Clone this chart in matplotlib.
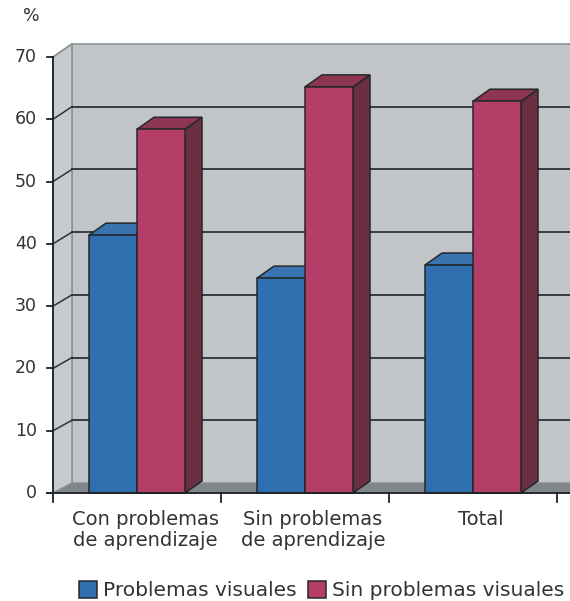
import matplotlib
matplotlib.use("Agg")
import matplotlib.pyplot as plt
from matplotlib.patches import Polygon, Rectangle

categories = ["Con problemas\nde aprendizaje", "Sin problemas\nde aprendizaje", "Total"]
series_names = ["Problemas visuales", "Sin problemas visuales"]
problemas_visuales = [41.4, 34.5, 36.6]
sin_problemas_visuales = [58.4, 65.2, 62.9]
y_ticks = [0, 10, 20, 30, 40, 50, 60, 70]

W, H = 570, 601
fig = plt.figure(figsize=(W / 100, H / 100), dpi=100)
# pixel geometry of the front plane
px_left, px_right, px_bottom, px_top = 53, 557, 493, 57
ax = fig.add_axes([px_left / W, (H - px_bottom) / H,
                   (px_right - px_left) / W, (px_bottom - px_top) / H])
ax.set_xlim(0, 3)
ax.set_ylim(0, 70)
ax.axis("off")

ux = (px_right - px_left) / 3.0      # px per category
uy = (px_bottom - px_top) / 70.0     # px per unit

# wall depth
wdx = 19 / ux
wb0 = 10 / uy          # back wall bottom offset
wb1 = 72.1             # back wall top (data)
xr_edge = (W - px_left) / ux + 0.05

def yb(v):
    return wb0 + v * (wb1 - wb0) / 70.0

wall_c = "#c2c5c8"
side_c = "#c8cbce"
floor_c = "#7f878b"
edge_c = "#8c9396"
grid_c = "#2b3236"
txt_c = "#333333"

# back wall
ax.add_patch(Polygon([(wdx, wb0), (xr_edge, wb0), (xr_edge, wb1), (wdx, wb1)],
                     closed=True, facecolor=wall_c, edgecolor=edge_c, lw=1.2, clip_on=False, zorder=1))
# side wall
ax.add_patch(Polygon([(0, 0), (wdx, wb0), (wdx, wb1), (0, 70)],
                     closed=True, facecolor=side_c, edgecolor=edge_c, lw=1.2, clip_on=False, zorder=1))
# floor
ax.add_patch(Polygon([(0, 0), (xr_edge, 0), (xr_edge, wb0), (wdx, wb0)],
                     closed=True, facecolor=floor_c, edgecolor=floor_c, lw=0.5, clip_on=False, zorder=1))
# gridlines
for v in y_ticks[1:-1]:
    ax.plot([wdx, xr_edge], [yb(v), yb(v)], color=grid_c, lw=1.3, clip_on=False, zorder=2)
    ax.plot([0, wdx], [v, yb(v)], color=grid_c, lw=1.1, clip_on=False, zorder=2)
ax.plot([0, wdx], [70, yb(70)], color=edge_c, lw=1.1, clip_on=False, zorder=2)

# bars
bw = 48 / ux
bdx = 17 / ux
bdy = 12 / uy
ec = "#23282b"
colors = [("#2f6fb0", "#3a74b0", "#2a5c8f"), ("#b53e69", "#8e3552", "#6a3041")]
for i in range(len(categories)):
    c = i + 0.5
    for s, vals in enumerate([problemas_visuales, sin_problemas_visuales]):
        v = vals[i]
        xl = c - bw + s * bw
        xr = xl + bw
        front, top, side = colors[s]
        ax.add_patch(Polygon([(xr, 0), (xr + bdx, bdy), (xr + bdx, v + bdy), (xr, v)],
                             closed=True, facecolor=side, edgecolor=ec, lw=1.1, zorder=3 + s * 2, clip_on=False))
        ax.add_patch(Polygon([(xl, v), (xl + bdx, v + bdy), (xr + bdx, v + bdy), (xr, v)],
                             closed=True, facecolor=top, edgecolor=ec, lw=1.1, zorder=3 + s * 2, clip_on=False))
        ax.add_patch(Rectangle((xl, 0), bw, v, facecolor=front, edgecolor=ec, lw=1.1,
                               zorder=4 + s * 2, clip_on=False))

# axes lines
axis_c = "#1f2326"
ax.plot([0, 0], [0, 70], color=axis_c, lw=1.3, clip_on=False, zorder=10)
ax.plot([-6 / ux, xr_edge], [0, 0], color=axis_c, lw=1.3, clip_on=False, zorder=10)
for v in y_ticks:
    ax.plot([-6 / ux, 0], [v, v], color=axis_c, lw=1.3, clip_on=False, zorder=10)
    ax.text(-16 / ux, v, str(v), ha="right", va="center", fontsize=12.5,
            color=txt_c, family="DejaVu Sans")
for k in range(4):
    ax.plot([k, k], [0, -9 / uy], color=axis_c, lw=1.3, clip_on=False, zorder=10)
for i, lab in enumerate(categories):
    ax.text(i + 0.5 + 8 / ux, -17 / uy, lab, ha="center", va="top", fontsize=14,
            color=txt_c, linespacing=1.1, family="DejaVu Sans")

fig.text(31 / W, 1 - 16 / H, "%", ha="center", va="center", fontsize=12.5, color=txt_c)

# legend
leg_y = 590
for (x0, txt, col) in [(79, series_names[0], colors[0][0]), (308, series_names[1], colors[1][0])]:
    fig.patches.append(Rectangle((x0 / W, 1 - (leg_y + 8) / H), 18 / W, 17 / H,
                                 transform=fig.transFigure, facecolor=col, edgecolor=ec, lw=1.1))
    fig.text((x0 + 24) / W, 1 - leg_y / H, txt, ha="left", va="center", fontsize=14.5, color=txt_c)

fig.savefig("out.png", dpi=100)
